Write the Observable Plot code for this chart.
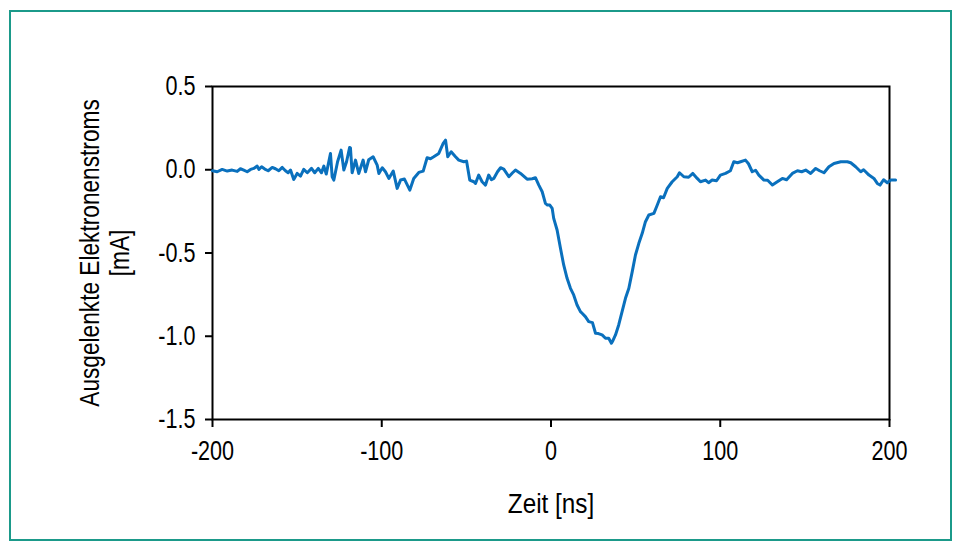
<!DOCTYPE html>
<html>
<head>
<meta charset="utf-8">
<script src="https://cdn.jsdelivr.net/npm/d3@7"></script>
<script src="https://cdn.jsdelivr.net/npm/@observablehq/plot@0.6"></script>
<style>
  body { margin: 0; background: #ffffff; }
  #wrap { position: relative; width: 961px; height: 551px; overflow: hidden; }
  #border { position: absolute; left: 9px; top: 10px; width: 943px; height: 531px; box-sizing: border-box; border: 2px solid #1b9a8a; pointer-events: none; }
  #chart { position: absolute; left: 0; top: 0; }
</style>
</head>
<body>
<div id="wrap"><div id="chart"></div><div id="border"></div></div>
<script>
// Zeit [ns]
const times = [
  -200, -197.2, -194.3, -191.3, -188.4, -185.4, -183.5, -181.5, -179.5, -177.5,
  -175.6, -173.6, -172.6, -171.0, -169.1, -167.1, -164.7, -162.8, -160.8, -158.8,
  -156.9, -155.3, -153.9, -152.0, -150.0, -148.0, -146.1, -144.0, -141.5, -139.6,
  -137.5, -135.6, -134.2, -132.8, -131.3, -130.3, -129.3, -128.3, -126.1, -124.0,
  -122.4, -120.8, -119.0, -118.5, -117.5, -115.5, -113.6, -111.0, -109.6, -107.7,
  -105.1, -102.7, -101.7, -99.7, -97.8, -95.8, -93.2, -90.9, -88.9, -86.6,
  -83.4, -81.1, -78.1, -75.5, -73.2, -71.2, -69.3, -66.3, -63.7, -62.3,
  -61.0, -59.0, -56.4, -54.5, -51.5, -49.9, -48.0, -45.6, -44.6, -42.7,
  -40.7, -38.7, -36.8, -35.2, -33.8, -31.6, -29.8, -27.9, -24.9, -22.7,
  -21.0, -18.0, -14.1, -11.1, -9.2, -7.2, -5.2, -3.3, -2.1, -0.7,
  0.7, 1.6, 3.6, 5.6, 7.5, 9.5, 11.5, 13.4, 15.4, 17.4,
  18.4, 20.3, 22.3, 24.5, 26.3, 28.0, 30.2, 32.2, 34.1, 35.7,
  36.3, 38.1, 40.0, 42.0, 44.0, 46.0, 48.0, 49.9, 51.9, 53.9,
  55.8, 57.8, 60.8, 62.8, 64.7, 66.5, 68.7, 71.6, 74.6, 75.9,
  78.5, 81.3, 83.8, 86.4, 88.3, 91.3, 93.1, 95.2, 97.8, 100.1,
  103.1, 106.0, 108.0, 110.2, 112.0, 114.9, 116.7, 118.9, 120.9, 122.8,
  125.8, 128.0, 130.8, 133.7, 136.7, 139.2, 142.6, 145.6, 148.1, 150.5,
  153.4, 156.4, 158.7, 161.3, 164.2, 167.2, 171.2, 175.1, 177.1, 180.0,
  183.0, 184.7, 187.9, 190.8, 192.8, 194.4, 196.5, 198.7, 200.7, 203.6
];
// Ausgelenkte Elektronenstroms [mA]
const currents = [
  -0.006, -0.012, 0.002, -0.008, -0.002, -0.010, 0.006, -0.002, -0.012, 0.002,
  0.008, 0.022, 0.002, 0.018, 0.004, -0.006, 0.014, 0.006, -0.006, 0.014,
  -0.006, -0.018, -0.002, -0.058, -0.022, -0.038, 0.002, -0.018, 0.008, -0.018,
  0.008, -0.018, 0.022, -0.026, 0.048, 0.098, -0.042, -0.062, 0.048, 0.118,
  -0.002, 0.048, 0.134, 0.132, -0.018, 0.058, -0.022, 0.058, -0.012, 0.060,
  0.078, 0.028, -0.022, 0.012, -0.012, -0.052, -0.008, -0.112, -0.062, -0.056,
  -0.122, -0.052, -0.016, -0.008, 0.072, 0.066, 0.078, 0.098, 0.158, 0.178,
  0.078, 0.108, 0.078, 0.058, 0.048, 0.052, -0.062, -0.072, -0.082, -0.032,
  -0.072, -0.092, -0.032, -0.060, -0.052, -0.012, 0.012, 0.004, -0.042, -0.018,
  -0.002, -0.022, -0.057, -0.054, -0.048, -0.092, -0.132, -0.202, -0.212, -0.212,
  -0.232, -0.292, -0.362, -0.472, -0.572, -0.652, -0.712, -0.752, -0.812, -0.852,
  -0.862, -0.882, -0.912, -0.918, -0.982, -0.984, -0.992, -1.012, -1.012, -1.042,
  -1.032, -0.992, -0.932, -0.852, -0.772, -0.712, -0.612, -0.512, -0.442, -0.382,
  -0.312, -0.272, -0.262, -0.212, -0.162, -0.168, -0.112, -0.072, -0.042, -0.018,
  -0.042, -0.045, -0.022, -0.052, -0.072, -0.062, -0.078, -0.062, -0.066, -0.032,
  -0.022, -0.006, 0.048, 0.042, 0.048, 0.058, 0.036, -0.012, -0.003, -0.032,
  -0.062, -0.063, -0.092, -0.072, -0.052, -0.060, -0.022, -0.006, -0.012, -0.002,
  -0.022, 0.008, -0.006, -0.018, 0.018, 0.038, 0.048, 0.048, 0.042, 0.018,
  -0.012, 0.000, -0.032, -0.052, -0.082, -0.092, -0.060, -0.078, -0.062, -0.062
];
const xTicks = [-200, -100, 0, 100, 200];
const yTicks = [-1.5, -1.0, -0.5, 0.0, 0.5];
const xLabel = "Zeit [ns]";
const yLabel = "Ausgelenkte Elektronenstroms\n[mA]";

const data = times.map((t, k) => ({t, i: currents[k]}));
const font = "'Liberation Sans', Arial, sans-serif";

const chart = Plot.plot({
  width: 961,
  height: 551,
  marginLeft: 212,
  marginRight: 72,
  marginTop: 86,
  marginBottom: 132,
  style: {fontFamily: font, fontSize: "27px", color: "#000", background: "transparent"},
  x: {domain: [-200, 200]},
  y: {domain: [-1.5, 0.5]},
  marks: [
    Plot.frame({stroke: "#000", strokeWidth: 2}),
    Plot.axisX({ticks: xTicks, tickSize: 8, tickPadding: 13, strokeWidth: 2, tickFormat: d => String(d), label: null, fontSize: 27}),
    Plot.axisY({ticks: yTicks, tickSize: 7, tickPadding: 10, strokeWidth: 2, tickFormat: d => d.toFixed(1), label: null, fontSize: 27}),
    Plot.line(data, {x: "t", y: "i", stroke: "#0a70bd", strokeWidth: 3, strokeLinejoin: "round", clip: false}),
    Plot.text([xLabel], {text: d => d, frameAnchor: "bottom", dy: 85, fontSize: 27, lineAnchor: "middle", textAnchor: "middle"}),
    Plot.text([yLabel], {text: d => d, frameAnchor: "left", dx: -108, rotate: -90, fontSize: 27, lineAnchor: "middle", textAnchor: "middle", lineHeight: 1.11})
  ]
});
document.getElementById("chart").appendChild(chart);

// condense glyphs horizontally (narrow typeface look), anchored at each text's own origin
chart.querySelectorAll("text").forEach(t => {
  const s = t.textContent;
  const f = s.includes("Zeit") ? 0.9 : s.includes("Ausgelenkte") ? 0.84 : 0.8;
  const ax = parseFloat(t.getAttribute("x")) || 0;
  const prev = t.getAttribute("transform") || "";
  t.setAttribute("transform", `${prev} translate(${ax},0) scale(${f},1) translate(${-ax},0)`);
});
</script>
</body>
</html>
